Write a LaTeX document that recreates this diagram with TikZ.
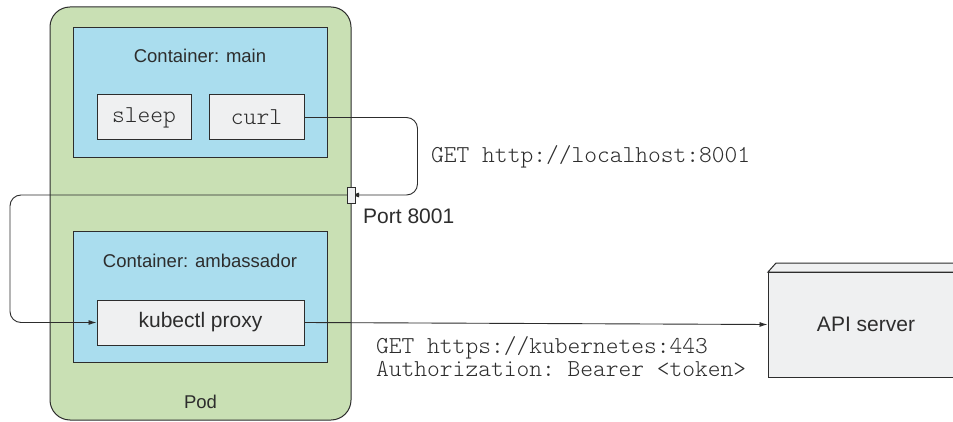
\documentclass[tikz,border=0pt]{standalone}
\usepackage{fontspec}
\setmainfont{Liberation Sans}
\setmonofont{Latin Modern Mono Light}
\usetikzlibrary{arrows.meta}
\definecolor{podgreen}{RGB}{201,224,180}
\definecolor{ctblue}{RGB}{170,221,238}
\definecolor{boxgray}{RGB}{239,240,241}
\definecolor{ink}{RGB}{45,45,45}
\tikzset{
  podbox/.style={draw=ink, line width=1pt, fill=podgreen, rounded corners=20pt, minimum width=301pt, minimum height=413pt, inner sep=0pt},
  ctbox/.style={draw=ink, line width=1pt, fill=ctblue, minimum width=254pt, minimum height=130pt, inner sep=0pt},
  procbox/.style={draw=ink, line width=1pt, fill=boxgray, minimum height=45pt, inner sep=0pt},
  smalltxt/.style={font=\fontsize{18.5}{22}\selectfont, text=ink, inner sep=0pt},
  bigtxt/.style={font=\fontsize{21}{25}\selectfont, text=ink, inner sep=0pt},
  monotxt/.style={font=\ttfamily\fontsize{24.3}{27}\selectfont, text=ink, inner sep=0pt},
  conn/.style={draw=ink, line width=0.9pt, -{Latex[length=8pt,width=5pt]}, rounded corners=11pt},
}
\begin{document}
\begin{tikzpicture}[x=1pt,y=-1pt]
\clip (0,0) rectangle (953,422);
\fill[white] (0,0) rectangle (953,422);
% Pod
\node[podbox] (pod) at (200.5,213.5) {};
\node[smalltxt, anchor=base] (podlbl) at (200.5,408) {Pod};
% main container
\node[ctbox] (main) at (200,93) {};
\node[smalltxt, anchor=base] (mainlbl) at (200,63) {Container: main};
\node[procbox, minimum width=94pt, monotxt] (sleep) at (144,117.5) {sleep};
\node[procbox, minimum width=95pt, monotxt] (curl) at (256.5,117.5) {curl};
% ambassador container
\node[ctbox] (amb) at (200,297) {};
\node[smalltxt, anchor=base] (amblbl) at (200,267) {Container: ambassador};
\node[procbox, minimum width=207pt, bigtxt] (proxy) at (200.5,322.5) {kubectl proxy};
% API server (3D box, cut at the right edge)
\fill[boxgray, draw=ink, line width=1pt] (768,272) -- (776,263) -- (972,263) -- (964,272) -- cycle;
\node[procbox, minimum width=196pt, minimum height=105pt, bigtxt] (api) at (866,324.5) {API server};
% connectors
\draw[conn] (curl.east) -- ++(113,0) |- (351,195);
\draw[conn] (347,195) -- ++(-337,0) |- (proxy.west);
\node[draw=ink, line width=0.9pt, fill=boxgray, minimum width=8pt, minimum height=16pt, inner sep=0pt] (port) at (351,195) {};
\draw[conn, rounded corners=0pt] (proxy.east) -- (api.west);
% labels
\node[bigtxt, anchor=base west] (portlbl) at (363,223) {Port 8001};
\node[monotxt, anchor=base west] (req1) at (431,163) {GET http://localhost:8001};
\node[monotxt, anchor=base west] (req2) at (376,353) {GET https://kubernetes:443};
\node[monotxt, anchor=base west] (req3) at (376,376) {Authorization: Bearer <token>};
\end{tikzpicture}
\end{document}
